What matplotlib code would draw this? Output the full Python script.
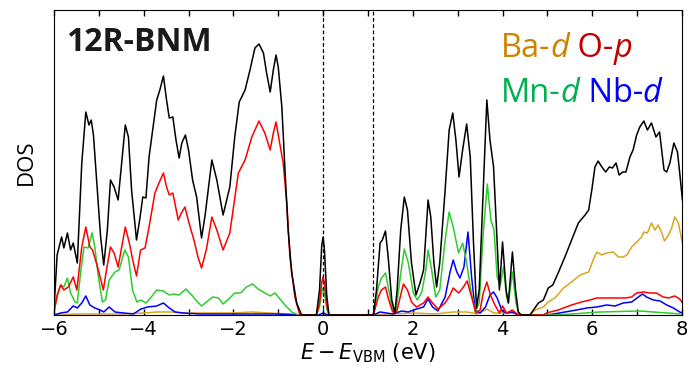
import numpy as np
import matplotlib
matplotlib.use('Agg')
import matplotlib.pyplot as plt
from matplotlib.ticker import MultipleLocator

# energies (eV) and DOS heights (arb. units)
tot_e = [-6.0, -5.93, -5.83, -5.78, -5.70, -5.63, -5.57, -5.48, -5.38, -5.29, -5.22, -5.17, -5.12, -5.05,
         -4.96, -4.89, -4.81, -4.74, -4.66, -4.57, -4.49, -4.41, -4.34, -4.27, -4.16, -4.08, -4.02, -3.95,
         -3.88, -3.79, -3.71, -3.64, -3.56, -3.49, -3.43, -3.35, -3.28, -3.21, -3.15, -3.07, -3.00, -2.91,
         -2.82, -2.71, -2.63, -2.48, -2.37, -2.23, -2.08, -1.97, -1.87, -1.74, -1.63, -1.52, -1.43, -1.33,
         -1.26, -1.18, -1.11, -1.05, -1.00, -0.92, -0.85, -0.78, -0.70, -0.59, -0.48,
         -0.15, -0.08, -0.03, 0.0, 0.03, 0.08, 0.13,
         1.12, 1.19, 1.27, 1.32, 1.39, 1.45, 1.53, 1.60, 1.65, 1.73, 1.81, 1.88, 1.97, 2.07, 2.16, 2.24,
         2.34, 2.40, 2.47, 2.53, 2.60, 2.72, 2.81, 2.89, 2.96, 3.03, 3.11, 3.20, 3.28, 3.35, 3.42, 3.48,
         3.56, 3.65, 3.72, 3.80, 3.86, 3.93, 4.00, 4.08, 4.13, 4.22, 4.29, 4.35, 4.42,
         4.61, 4.69, 4.80, 4.91, 5.02, 5.12, 5.24, 5.39, 5.54, 5.69, 5.84, 5.92, 5.99, 6.06, 6.13, 6.23,
         6.30, 6.38, 6.45, 6.53, 6.60, 6.68, 6.75, 6.84, 6.91, 6.99, 7.06, 7.15, 7.23, 7.32, 7.42, 7.50,
         7.60, 7.66, 7.73, 7.82, 7.90, 7.95, 8.01]
tot_dos = [5, 60, 78, 67, 82, 65, 72, 52, 152, 203, 190, 195, 180, 135,
           78, 50, 85, 135, 128, 115, 152, 190, 178, 125, 75, 98, 118, 117,
           158, 188, 215, 225, 239, 215, 197, 198, 175, 157, 172, 180, 165, 135,
           118, 77, 100, 155, 135, 100, 128, 178, 213, 225, 245, 267, 271, 262,
           242, 223, 245, 260, 248, 208, 145, 85, 42, 12, 0,
           0, 25, 70, 78, 65, 20, 0,
           0, 25, 72, 75, 84, 58, 15, 2, 25, 85, 118, 105, 52, 20, 32, 45,
           115, 98, 52, 28, 52, 125, 185, 202, 175, 138, 165, 191, 158, 75, 7, 25,
           115, 215, 175, 148, 92, 25, 73, 25, 12, 63, 25, 3, 0,
           0, 5, 12, 15, 27, 30, 42, 58, 75, 92, 100, 105, 125, 148, 154, 147,
           143, 148, 147, 152, 140, 143, 143, 158, 165, 180, 188, 194, 185, 192, 178, 183,
           145, 143, 152, 172, 163, 142, 115]

op_e = [-6.0, -5.93, -5.85, -5.78, -5.68, -5.57, -5.49, -5.38, -5.29, -5.20, -5.14, -5.01, -4.90,
        -4.83, -4.74, -4.66, -4.57, -4.49, -4.41, -4.32, -4.23, -4.16, -4.07, -3.97, -3.88, -3.75,
        -3.65, -3.56, -3.49, -3.43, -3.35, -3.23, -3.16, -3.08, -2.99, -2.88, -2.79, -2.71, -2.60,
        -2.48, -2.37, -2.23, -2.08, -1.89, -1.74, -1.59, -1.43, -1.30, -1.18, -1.11, -1.05, -0.98,
        -0.89, -0.81, -0.74, -0.63, -0.52,
        -0.15, -0.08, -0.03, 0.0, 0.03, 0.08, 0.13,
        1.12, 1.23, 1.30, 1.39, 1.45, 1.55, 1.64, 1.73, 1.79, 1.88, 1.97, 2.08, 2.24, 2.34, 2.44,
        2.56, 2.72, 2.83, 2.90, 3.02, 3.13, 3.21, 3.31, 3.41, 3.50, 3.57, 3.65, 3.73, 3.83, 3.93,
        4.00, 4.09, 4.22, 4.35,
        4.90, 4.98, 5.24, 5.54, 5.76, 5.95, 6.10, 6.32, 6.55, 6.73, 6.88, 6.99, 7.14, 7.29, 7.43,
        7.58, 7.70, 7.84, 7.95, 8.01]
op_dos = [3, 20, 30, 25, 28, 38, 25, 68, 88, 68, 65, 45, 25,
          45, 68, 62, 48, 68, 88, 72, 52, 39, 65, 67, 88, 122,
          133, 142, 128, 120, 122, 95, 102, 108, 92, 75, 58, 47, 66,
          98, 85, 65, 82, 142, 155, 178, 194, 182, 165, 182, 193, 175,
          152, 112, 58, 18, 0,
          0, 12, 33, 38, 32, 10, 0,
          0, 18, 25, 28, 17, 3, 3, 20, 31, 25, 13, 8, 12, 18, 12,
          6, 12, 20, 27, 22, 28, 34, 18, 2, 5, 22, 33, 20, 10, 2,
          9, 2, 5, 0,
          0, 2, 5, 10, 13, 15, 17, 17, 17, 17, 18, 22, 23, 22, 22,
          18, 17, 19, 16, 12]

mnd_e = [-6.0, -5.93, -5.85, -5.78, -5.70, -5.63, -5.53, -5.48, -5.40, -5.33, -5.24, -5.15, -5.09,
         -5.01, -4.92, -4.85, -4.77, -4.64, -4.55, -4.42, -4.34, -4.25, -4.15, -4.06, -3.95, -3.83,
         -3.71, -3.56, -3.43, -3.33, -3.21, -3.06, -2.93, -2.82, -2.71, -2.60, -2.46, -2.33, -2.23,
         -2.08, -1.97, -1.84, -1.71, -1.57, -1.45, -1.30, -1.18, -1.07, -0.98, -0.85, -0.70, -0.55,
         -0.15, -0.08, -0.03, 0.0, 0.03, 0.08, 0.13,
         1.12, 1.23, 1.30, 1.39, 1.45, 1.55, 1.62, 1.72, 1.81, 1.90, 2.01, 2.10, 2.20, 2.29, 2.34,
         2.42, 2.51, 2.60, 2.72, 2.81, 2.90, 3.02, 3.11, 3.19, 3.28, 3.39, 3.48, 3.57, 3.66, 3.74,
         3.81, 3.88, 3.95, 4.02, 4.09, 4.13, 4.22, 4.30, 4.37,
         5.20, 5.54, 6.17, 7.06, 7.66, 8.01]
mnd_dos = [3, 18, 30, 28, 37, 22, 13, 12, 45, 68, 67, 82, 68,
           38, 13, 15, 35, 43, 45, 65, 58, 25, 13, 15, 12, 18,
           25, 24, 20, 21, 20, 26, 20, 14, 9, 13, 18, 17, 11,
           17, 22, 22, 28, 31, 26, 22, 19, 22, 17, 10, 3, 0,
           0, 8, 23, 27, 22, 7, 0,
           0, 28, 37, 42, 28, 5, 3, 38, 66, 52, 22, 15, 23, 45, 65,
           45, 18, 25, 75, 103, 88, 62, 72, 55, 28, 3, 12, 82, 131, 95,
           85, 38, 30, 48, 18, 12, 43, 12, 0,
           0, 1, 3, 4, 2, 1]

nbd_e = [-6.0, -5.85, -5.70, -5.57, -5.48, -5.38, -5.29, -5.20, -5.09, -4.97, -4.89, -4.77, -4.64,
         -4.45, -4.23, -4.06, -3.91, -3.71, -3.56, -3.43, -3.30, -3.12, -2.75, -2.0, -1.0, -0.5,
         -0.1, 0.0, 0.1,
         1.12, 1.27, 1.41, 1.56, 1.75, 1.90, 2.08, 2.24, 2.34, 2.44, 2.56, 2.72, 2.83, 2.90, 2.98,
         3.05, 3.14, 3.23, 3.31, 3.39, 3.50, 3.62, 3.72, 3.80, 3.88, 3.99, 4.09, 4.22, 4.35,
         5.0, 5.27, 5.65, 5.88, 6.10, 6.32, 6.51, 6.69, 6.88, 7.03, 7.12, 7.21, 7.36, 7.51, 7.66,
         7.81, 7.95, 8.01]
nbd_dos = [0, 2, 3, 9, 7, 12, 19, 10, 7, 5, 3, 8, 3,
           2, 1, 6, 8, 9, 12, 7, 3, 2, 1, 1, 1, 0,
           0, 2, 0,
           0, 3, 2, 1, 4, 3, 6, 8, 16, 8, 4, 18, 43, 55, 43,
           37, 48, 83, 38, 5, 2, 8, 20, 23, 17, 4, 2, 3, 0,
           0, 2, 5, 7, 8, 10, 9, 12, 13, 18, 21, 18, 15, 14, 10,
           7, 3, 2]

bad_e = [-6.0, -5.5, -5.0, -4.5, -4.0, -3.7, -3.4, -3.1, -2.8, -2.5, -2.0, -1.6, -1.2, -0.8, -0.5,
         1.12, 1.5, 2.0, 2.5, 2.9, 3.2, 3.45, 3.65, 3.8, 4.2, 4.4,
         4.61, 4.73, 4.91, 5.02, 5.17, 5.36, 5.54, 5.73, 5.92, 6.02, 6.10, 6.21, 6.32, 6.47, 6.58,
         6.69, 6.77, 6.88, 6.99, 7.10, 7.15, 7.23, 7.32, 7.40, 7.47, 7.55, 7.61, 7.70, 7.77, 7.84,
         7.92, 8.01]
bad_dos = [0, 1, 1, 1, 2, 3, 3, 2, 2, 2, 2, 3, 2, 1, 0,
           0, 1, 2, 1, 3, 3, 1, 6, 2, 2, 0,
           0, 5, 8, 13, 17, 27, 33, 40, 43, 55, 63, 60, 62, 63, 58,
           58, 60, 68, 73, 78, 83, 82, 92, 85, 90, 82, 74, 80, 87, 98,
           92, 72]

gap_edges = [0.0, 1.12]

fig = plt.figure(figsize=(6.92, 3.78), dpi=100)
ax = fig.add_axes([0.078, 0.1667, 0.9075, 0.8068])

ax.plot(bad_e, bad_dos, color='#daa520', lw=1.1)
ax.plot(nbd_e, nbd_dos, color='#0000ff', lw=1.1)
ax.plot(mnd_e, mnd_dos, color='#2ecc2e', lw=1.1)
ax.plot(op_e, op_dos, color='#ff0000', lw=1.1)
ax.plot(tot_e, tot_dos, color='black', lw=1.1)
for g in gap_edges:
    ax.axvline(g, color='black', lw=0.9, ls=(0, (3, 2)))

ax.set_xlim(-6, 8)
ax.set_ylim(0, 305)
ax.set_yticks([])
ax.xaxis.set_major_locator(MultipleLocator(2))
ax.xaxis.set_minor_locator(MultipleLocator(1))
ax.tick_params(axis='x', which='both', direction='in', top=True, length=4, width=1, labelsize=14)
ax.set_xlabel(r'$E-E_{\rm VBM}$ (eV)', fontsize=15, labelpad=2)
ax.set_ylabel('DOS', fontsize=16, family='Open Sans', labelpad=12)

ax.text(0.019, 0.893, '12R-BNM', transform=ax.transAxes, fontsize=23, fontweight='bold',
        family='Open Sans', color='#1a1a1a', va='center')


def chain(x, y, parts):
    t = ax.text(x, y, parts[0][0], transform=ax.transAxes, fontsize=23.5, family='Open Sans',
                color=parts[0][1], style=parts[0][2], va='bottom')
    for s, c, st in parts[1:]:
        t = ax.annotate(s, xy=(1, 0), xycoords=t, fontsize=23.5, family='Open Sans',
                        color=c, style=st, va='bottom', ha='left')


chain(0.712, 0.82, [('Ba-', '#cc8400', 'normal'), ('d', '#cc8400', 'italic'),
                    (' O-', '#c00000', 'normal'), ('p', '#c00000', 'italic')])
chain(0.712, 0.672, [('Mn-', '#00b050', 'normal'), ('d', '#00b050', 'italic'),
                     (' Nb-', '#0000ff', 'normal'), ('d', '#0000ff', 'italic')])

fig.savefig('out.png', dpi=100)
